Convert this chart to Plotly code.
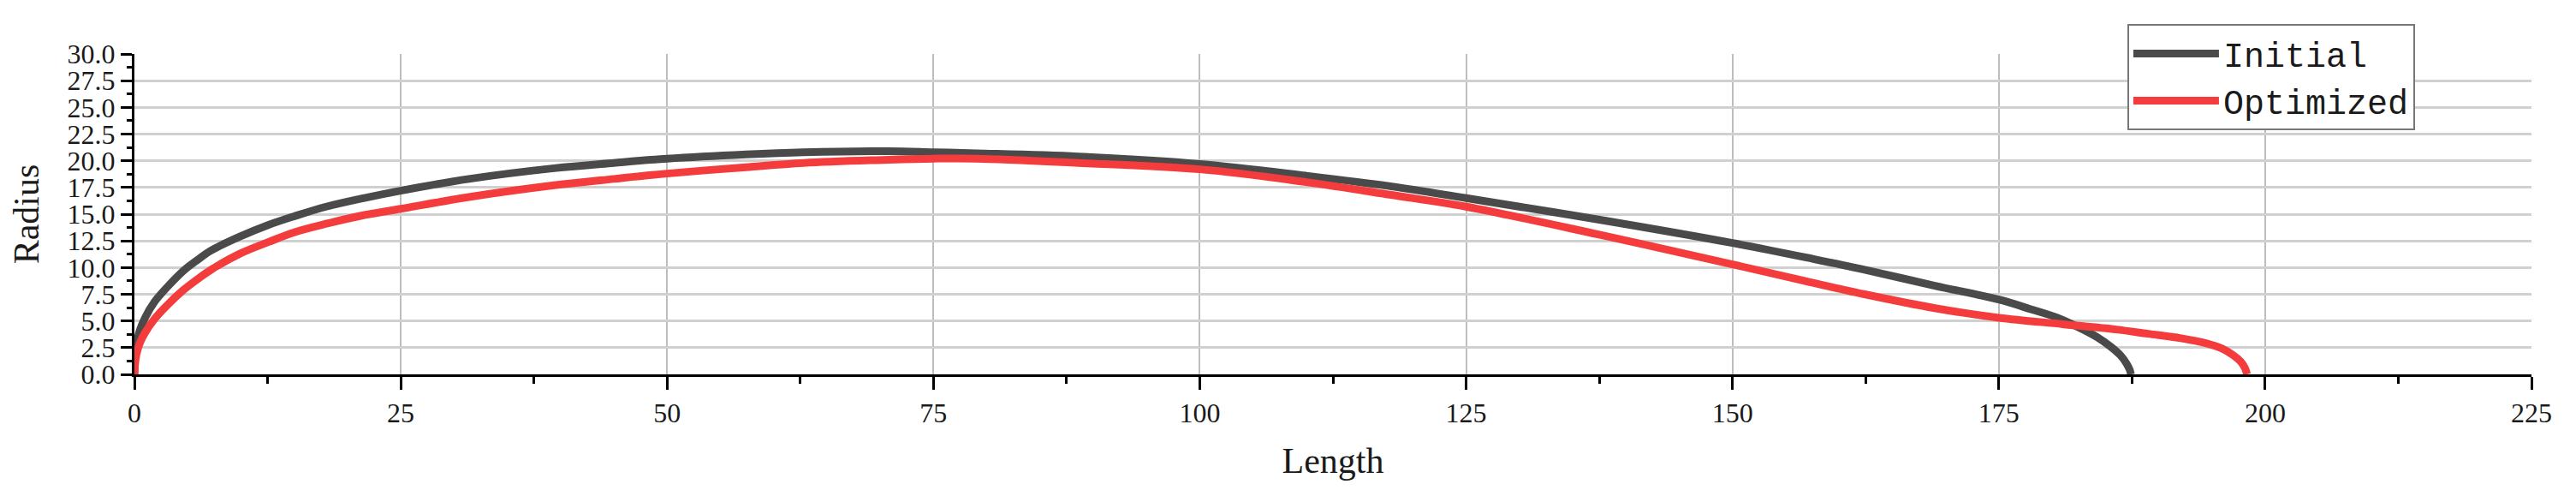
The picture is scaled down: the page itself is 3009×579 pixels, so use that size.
import plotly.graph_objects as go

# ---- data ----
initial_x = [0, 0.05, 0.2, 0.5, 1.0, 1.9, 3.2, 4.6, 5.9, 7.2, 9.9, 12.6, 15, 18, 21.5, 25,
             31.4, 39.4, 45, 50, 57.4, 62.8, 70.8, 75, 79, 88.6, 100, 110, 118, 125, 137.4,
             150, 157.6, 162.4, 169, 175, 178, 180.5, 182.5, 184.2, 185.5, 186.4, 187.0,
             187.3, 187.4]
initial_y = [0, 1.4, 2.8, 4.1, 5.3, 6.8, 8.3, 9.7, 10.7, 11.6, 12.9, 14.0, 14.8, 15.7, 16.5,
             17.2, 18.3, 19.3, 19.8, 20.2, 20.6, 20.8, 20.9, 20.8, 20.7, 20.4, 19.7, 18.6,
             17.6, 16.5, 14.5, 12.3, 10.8, 9.8, 8.3, 7.0, 6.1, 5.3, 4.4, 3.5, 2.6, 1.8, 1.0,
             0.4, 0]

optimized_x = [0, 0.05, 0.2, 0.5, 1.0, 1.9, 3.2, 4.6, 5.9, 7.2, 9.9, 12.6, 15, 18, 21.5, 25,
               31.4, 39.4, 45, 50, 57.4, 62.8, 70.8, 75, 79, 88.6, 100, 110, 118, 125, 137.4,
               150, 157, 162.4, 169, 175, 181, 186, 189, 192, 194.5, 196, 197.0, 197.7,
               198.1, 198.3]
optimized_y = [0, 0.9, 1.9, 2.9, 3.9, 5.2, 6.6, 7.9, 8.9, 9.8, 11.3, 12.4, 13.3, 14.1, 14.9,
               15.5, 16.6, 17.7, 18.3, 18.8, 19.4, 19.8, 20.1, 20.2, 20.2, 19.8, 19.2, 18.0,
               16.8, 15.7, 13.1, 10.3, 8.7, 7.5, 6.2, 5.3, 4.7, 4.2, 3.8, 3.4, 2.9, 2.4, 1.8,
               1.2, 0.6, 0]

x_ticks = [0, 25, 50, 75, 100, 125, 150, 175, 200, 225]
y_ticks = [0, 2.5, 5, 7.5, 10, 12.5, 15, 17.5, 20, 22.5, 25, 27.5, 30]
x_grid = [25, 50, 75, 100, 125, 150, 175, 200]
y_grid = [2.5, 5, 7.5, 10, 12.5, 15, 17.5, 20, 22.5, 25, 27.5]

X_RANGE = [0, 225]
Y_RANGE = [0, 30]

TICK_FONT = dict(family="Liberation Serif", size=32, color="#1a1a1a")
TITLE_FONT = dict(family="Liberation Serif", size=42, color="#1a1a1a")

fig = go.Figure()
fig.add_trace(go.Scatter(x=initial_x, y=initial_y, name="Initial", mode="lines",
                         line=dict(color="#4a4a4a", width=9, shape="spline", smoothing=1.0)))
fig.add_trace(go.Scatter(x=optimized_x, y=optimized_y, name="Optimized", mode="lines",
                         line=dict(color="#f43c3c", width=9, shape="spline", smoothing=1.0)))

fig.update_layout(
    width=3009, height=579,
    margin=dict(l=149, r=60, t=55, b=150, autoexpand=False),
    paper_bgcolor="white", plot_bgcolor="white",
    showlegend=True,
    legend=dict(
        x=0.8314, y=1.0936, xanchor="left", yanchor="top",
        bgcolor="white", bordercolor="#777777", borderwidth=2,
        font=dict(family="Liberation Mono", size=40, color="#1a1a1a"),
        itemwidth=100, tracegroupgap=0,
    ),
    # grid-only axes (carry the traces)
    xaxis=dict(range=X_RANGE, tickvals=x_grid, showticklabels=False, ticks="",
               showgrid=True, gridcolor="#bdbdbd", gridwidth=1.5,
               zeroline=False, showline=False, fixedrange=True),
    yaxis=dict(range=Y_RANGE, tickvals=y_grid, showticklabels=False, ticks="",
               showgrid=True, gridcolor="#d0d0d0", gridwidth=2.5,
               zeroline=False, showline=False, fixedrange=True),
    # labelled axes
    xaxis2=dict(range=X_RANGE, overlaying="x", anchor="y", side="bottom",
                tickvals=x_ticks, ticks="outside", ticklen=15, tickwidth=3, tickcolor="black",
                showline=True, linecolor="black", linewidth=3, showgrid=False, zeroline=False,
                tickfont=TICK_FONT,
                minor=dict(dtick=12.5, tick0=0, ticks="outside", ticklen=8, tickwidth=3,
                           tickcolor="black", showgrid=False),
                title=dict(text="Length", font=TITLE_FONT, standoff=24)),
    yaxis2=dict(range=Y_RANGE, overlaying="y", anchor="x", side="left",
                tickvals=y_ticks, tickformat=".1f", ticks="outside", ticklen=13, tickwidth=3,
                tickcolor="black", showline=True, linecolor="black", linewidth=3,
                showgrid=False, zeroline=False, tickfont=TICK_FONT,
                minor=dict(dtick=1.25, tick0=0, ticks="outside", ticklen=6, tickwidth=3,
                           tickcolor="black", showgrid=False),
                title=dict(text="Radius", font=TITLE_FONT, standoff=28)),
)

# invisible helper trace so the overlay axes are rendered
fig.add_trace(go.Scatter(x=[None], y=[None], xaxis="x2", yaxis="y2", showlegend=False,
                         hoverinfo="skip"))

fig.write_html("out.html")
